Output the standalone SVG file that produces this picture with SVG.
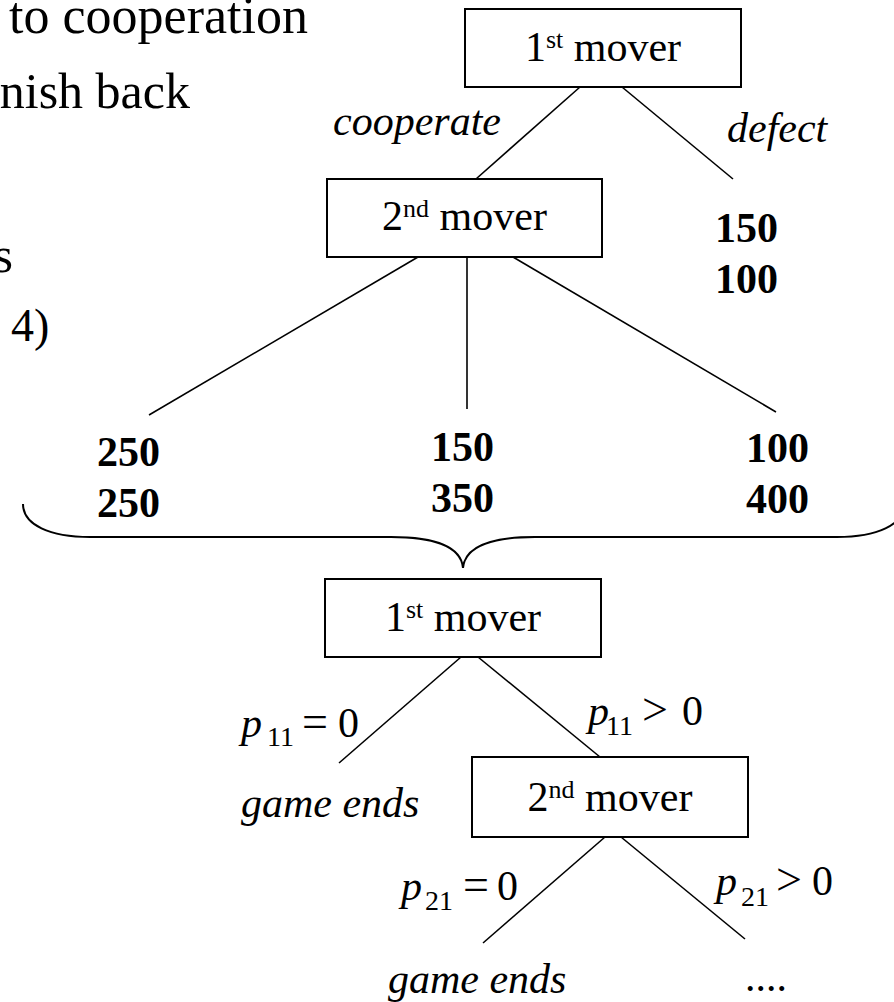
<svg xmlns="http://www.w3.org/2000/svg" width="894" height="1002" viewBox="0 0 894 1002">
  <style>
    text { font-family: "Liberation Serif", "Times New Roman", serif; fill: #000; }
    .big { font-size: 50px; }
    .lbl { font-size: 42px; }
    .it { font-style: italic; }
    .num { font-size: 42px; font-weight: bold; }
    .sup { font-size: 26px; }
    .sub { font-size: 28px; font-style: normal; }
    .op { font-size: 46px; }
    .box { fill: #fff; stroke: #000; stroke-width: 2; }
    .edge { stroke: #000; stroke-width: 1.6; fill: none; }
    .brace { stroke: #000; stroke-width: 2; fill: none; }
  </style>

  <!-- background text fragments on the left -->
  <g id="side-text">
    <text class="big" x="308" y="33" text-anchor="end" font-size="52" style="font-size:52px">to cooperation</text>
    <text class="big" x="190" y="108" text-anchor="end">nish back</text>
    <text class="big" x="13" y="272" text-anchor="end">s</text>
    <text class="big" x="11" y="341" style="font-size:46px">4)</text>
  </g>

  <!-- branches of the game tree -->
  <g id="connectors">
    <line class="edge" x1="580" y1="87" x2="476" y2="179"/>
    <line class="edge" x1="622" y1="87" x2="733" y2="179"/>
    <line class="edge" x1="418" y1="257" x2="149" y2="415"/>
    <line class="edge" x1="467" y1="257" x2="467" y2="409"/>
    <line class="edge" x1="513" y1="257" x2="776" y2="412"/>
    <line class="edge" x1="461" y1="657" x2="339" y2="763"/>
    <line class="edge" x1="478" y1="657" x2="600" y2="757"/>
    <line class="edge" x1="605" y1="837" x2="483" y2="943"/>
    <line class="edge" x1="621" y1="837" x2="745" y2="939"/>
    <path class="brace" d="M23,504 C23,525 50,537 90,537 L391,537 C430,537 461,545 463,568 C465,545 496,537 535,537 L837,537 C877,537 904,525 904,504"/>
  </g>

  <!-- decision nodes -->
  <g id="node-first-mover">
    <rect class="box" x="465" y="9" width="276" height="78"/>
    <text class="lbl" x="603" y="61" text-anchor="middle">1<tspan class="sup" dy="-13">st</tspan><tspan dy="13"> mover</tspan></text>
  </g>
  <g id="node-second-mover">
    <rect class="box" x="327" y="179" width="275" height="78"/>
    <text class="lbl" x="464.5" y="230" text-anchor="middle">2<tspan class="sup" dy="-13">nd</tspan><tspan dy="13"> mover</tspan></text>
  </g>
  <g id="node-first-mover-repeat">
    <rect class="box" x="325" y="579" width="276" height="78"/>
    <text class="lbl" x="463" y="631" text-anchor="middle">1<tspan class="sup" dy="-13">st</tspan><tspan dy="13"> mover</tspan></text>
  </g>
  <g id="node-second-mover-repeat">
    <rect class="box" x="472" y="757" width="276" height="80"/>
    <text class="lbl" x="610" y="811" text-anchor="middle">2<tspan class="sup" dy="-13">nd</tspan><tspan dy="13"> mover</tspan></text>
  </g>

  <!-- action labels -->
  <g id="action-labels">
    <text class="lbl it" x="333" y="135">cooperate</text>
    <text class="lbl it" x="727" y="142">defect</text>
  </g>

  <!-- payoffs -->
  <g id="payoff-defect">
    <text class="num" x="715" y="242">150</text>
    <text class="num" x="715" y="293">100</text>
  </g>
  <g id="payoff-left">
    <text class="num" x="97" y="466">250</text>
    <text class="num" x="97" y="517">250</text>
  </g>
  <g id="payoff-middle">
    <text class="num" x="431" y="461">150</text>
    <text class="num" x="431" y="512">350</text>
  </g>
  <g id="payoff-right">
    <text class="num" x="746" y="462">100</text>
    <text class="num" x="746" y="513">400</text>
  </g>

  <!-- probability labels of the repeated stage -->
  <g id="prob-labels">
    <text class="lbl" y="737"><tspan class="it" x="241">p</tspan><tspan class="sub" x="267" dy="9">11</tspan><tspan class="op" x="302" dy="-9">=</tspan><tspan x="338">0</tspan></text>
    <text class="lbl" y="725"><tspan class="it" x="588">p</tspan><tspan class="sub" x="606" dy="10">11</tspan><tspan class="op" x="642" dy="-10">&gt;</tspan><tspan x="682">0</tspan></text>
    <text class="lbl" y="900"><tspan class="it" x="401">p</tspan><tspan class="sub" x="425" dy="10">21</tspan><tspan class="op" x="463" dy="-10">=</tspan><tspan x="497">0</tspan></text>
    <text class="lbl" y="895"><tspan class="it" x="716">p</tspan><tspan class="sub" x="741" dy="11">21</tspan><tspan class="op" x="776" dy="-11">&gt;</tspan><tspan x="812">0</tspan></text>
  </g>

  <g id="outcome-labels">
    <text class="lbl it" x="241" y="817">game ends</text>
    <text class="lbl it" x="388" y="993">game ends</text>
    <text class="lbl it" x="746" y="991">....</text>
  </g>
</svg>
